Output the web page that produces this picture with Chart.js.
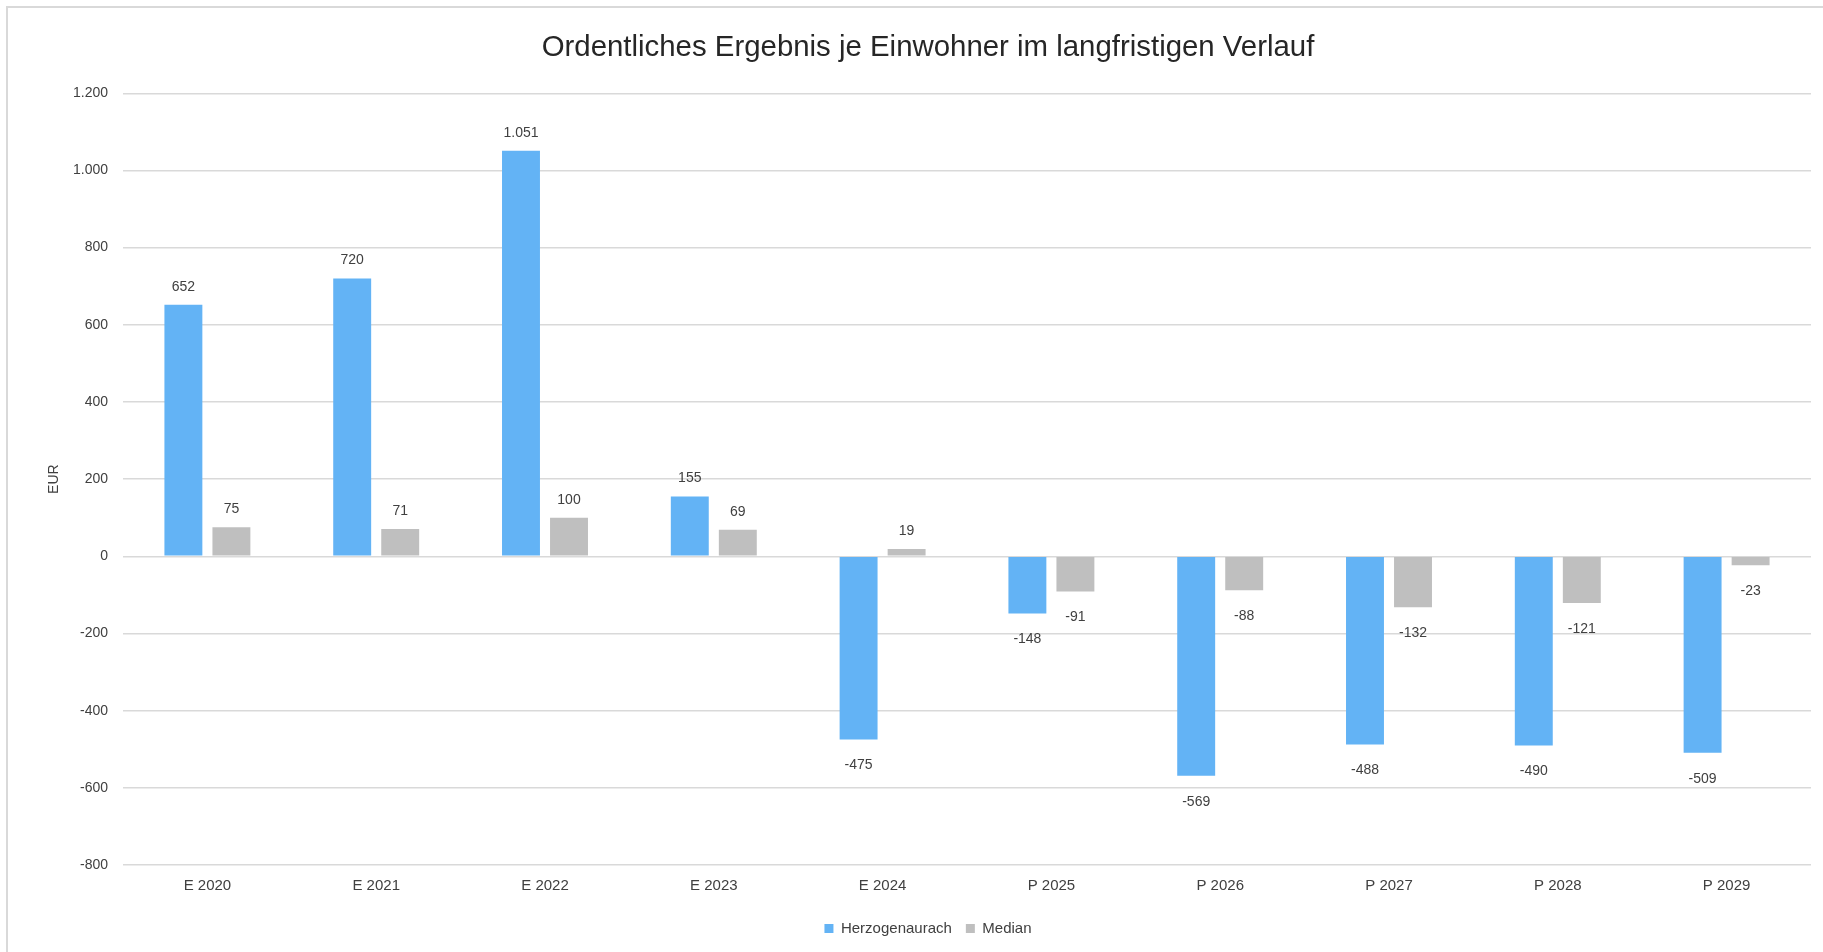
<!DOCTYPE html>
<html>
<head>
<meta charset="utf-8">
<script src="https://cdn.jsdelivr.net/npm/chart.js@4.4.0/dist/chart.umd.min.js"></script>
<style>
  html, body { margin: 0; padding: 0; background: #fff; overflow: hidden; }
  #wrap { position: absolute; left: 0; top: 0; width: 1823px; height: 952px; }
  #frame { position: absolute; left: 6px; top: 6px; width: 1840px; height: 980px; border: 2px solid #d9d9d9; box-sizing: border-box; pointer-events: none; }
</style>
</head>
<body>
<div id="wrap">
  <canvas id="c" width="1823" height="952"></canvas>
  <div id="frame"></div>
</div>
<script>
const categories = ['E 2020', 'E 2021', 'E 2022', 'E 2023', 'E 2024', 'P 2025', 'P 2026', 'P 2027', 'P 2028', 'P 2029'];
const herzogenaurach = [652, 720, 1051, 155, -475, -148, -569, -488, -490, -509];
const median = [75, 71, 100, 69, 19, -91, -88, -132, -121, -23];
const seriesNames = ['Herzogenaurach', 'Median'];
const chartTitle = 'Ordentliches Ergebnis je Einwohner im langfristigen Verlauf';
const yAxisTitle = 'EUR';

function fmtDE(v) {
  const neg = v < 0;
  let s = String(Math.abs(Math.round(v)));
  s = s.replace(/\B(?=(\d{3})+(?!\d))/g, '.');
  return (neg ? '-' : '') + s;
}

const FONT = "'Liberation Sans', Arial, sans-serif";
const TXT = '#404040';

const labelPlugin = {
  id: 'valueLabels',
  afterLayout(chart) {
    [chart.legend, chart.titleBlock].forEach(b => {
      if (b) {
        const shift = 928 - (b.left + b.right) / 2;
        b.left += shift;
        b.right += shift;
      }
    });
  },
  afterDatasetsDraw(chart) {
    const ctx = chart.ctx;
    ctx.save();
    ctx.font = '14px ' + FONT;
    ctx.fillStyle = TXT;
    ctx.textAlign = 'center';
    ctx.textBaseline = 'middle';
    chart.data.datasets.forEach((ds, di) => {
      const meta = chart.getDatasetMeta(di);
      meta.data.forEach((bar, i) => {
        const v = ds.data[i];
        const y = v >= 0 ? bar.y - 18 : bar.y + 26;
        ctx.fillText(fmtDE(v), bar.x, y);
      });
    });
    ctx.restore();
  }
};

new Chart(document.getElementById('c'), {
  type: 'bar',
  data: {
    labels: categories,
    datasets: [
      { label: seriesNames[0], data: herzogenaurach, backgroundColor: '#63b3f5', barPercentage: 0.79, categoryPercentage: 0.569 },
      { label: seriesNames[1], data: median, backgroundColor: '#bfbfbf', barPercentage: 0.79, categoryPercentage: 0.569 }
    ]
  },
  options: {
    responsive: false,
    animation: false,
    devicePixelRatio: 1,
    layout: { padding: { left: 0, right: 12, top: 0, bottom: 6 } },
    plugins: {
      title: {
        display: true,
        text: chartTitle,
        color: '#262626',
        font: { family: FONT, size: 29.4, weight: 'normal' },
        padding: { top: 30, bottom: 28 }
      },
      legend: {
        position: 'bottom',
        labels: {
          color: TXT,
          font: { family: FONT, size: 15 },
          boxWidth: 9,
          boxHeight: 9,
          padding: 14
        }
      },
      tooltip: { enabled: false }
    },
    scales: {
      x: {
        grid: { display: false, drawTicks: false },
        border: { display: false },
        ticks: { color: TXT, font: { family: FONT, size: 15 }, padding: 12 }
      },
      y: {
        min: -800,
        max: 1200,
        ticks: {
          stepSize: 200,
          color: TXT,
          font: { family: FONT, size: 14 },
          padding: 15,
          callback: (v) => fmtDE(v)
        },
        grid: { color: '#d9d9d9', lineWidth: 1.5, drawTicks: false },
        border: { display: false },
        title: { display: true, text: yAxisTitle, color: TXT, font: { family: FONT, size: 14 }, padding: { top: 46, bottom: 0 } },
        afterFit(scale) { scale.width = 123; }
      }
    }
  },
  plugins: [labelPlugin]
});
</script>
</body>
</html>
